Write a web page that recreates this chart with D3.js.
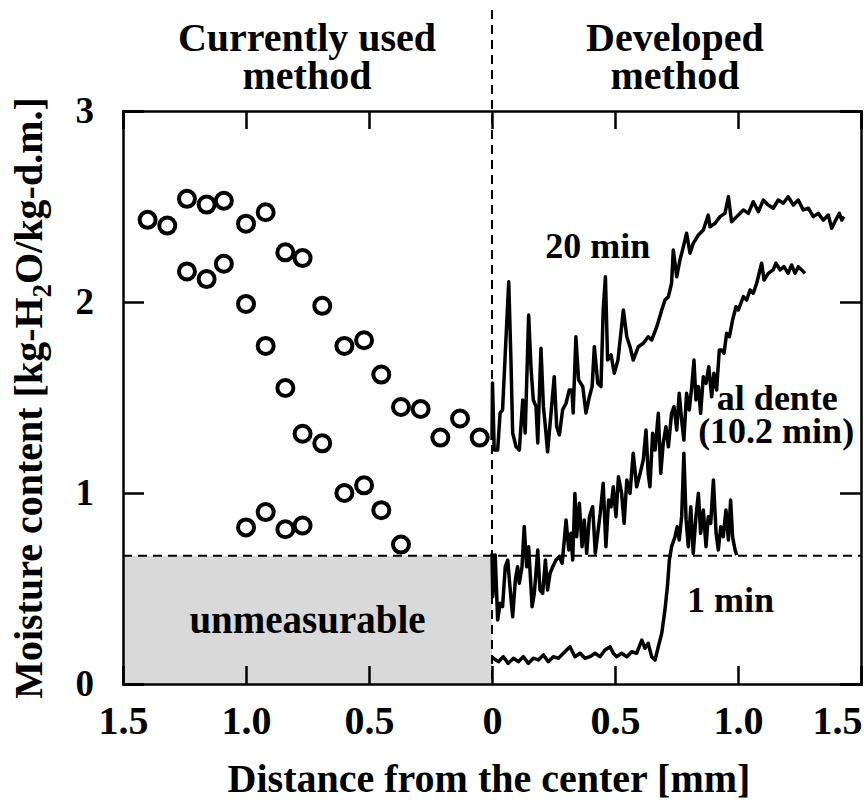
<!DOCTYPE html>
<html>
<head>
<meta charset="utf-8">
<script src="https://cdn.jsdelivr.net/npm/d3@7"></script>
<style>
  body { margin: 0; background: #fff; }
  text { font-family: "Liberation Serif", "Times New Roman", serif; font-weight: bold; fill: #000; }
</style>
</head>
<body>
<div id="chart"></div>
<script>
////////////////////
// DATA

var xTicks = [-1.5, -1, -0.5, 0, 0.5, 1, 1.5];
var yTicks = [0, 1, 2, 3];
var threshold = 0.672; // lower limit of the currently used method

// currently used method: [distance from center (mm), moisture]
var currentPts = [
  [1.40, 2.43], [1.32, 2.40], [1.24, 2.54], [1.16, 2.51], [1.09, 2.53], [1.00, 2.41], [0.92, 2.47],
  [0.84, 2.26], [0.77, 2.23], [1.24, 2.16], [1.16, 2.12], [1.09, 2.20], [1.00, 1.99], [0.69, 1.98],
  [0.92, 1.77], [0.60, 1.77], [0.52, 1.80], [0.45, 1.62], [0.84, 1.55], [0.37, 1.45], [0.29, 1.44],
  [0.13, 1.39], [0.21, 1.29], [0.05, 1.29], [0.77, 1.31], [0.69, 1.26], [0.60, 1.00], [0.52, 1.04],
  [0.45, 0.91], [1.00, 0.82], [0.92, 0.90], [0.84, 0.81], [0.77, 0.83], [0.37, 0.73]
];

// developed method, 20 min
var min20 = [
  [0.000, 1.277], [0.002, 1.576], [0.009, 1.225], [0.023, 1.225], [0.033, 1.419], [0.043, 1.435],
  [0.054, 1.733], [0.068, 2.106], [0.077, 1.696], [0.084, 1.314], [0.098, 1.242], [0.111, 1.225],
  [0.125, 1.487], [0.135, 1.314], [0.149, 1.932], [0.159, 1.644], [0.168, 1.487], [0.179, 1.452],
  [0.186, 1.262], [0.199, 1.758], [0.209, 1.452], [0.217, 1.347], [0.226, 1.216], [0.240, 1.419],
  [0.253, 1.609], [0.263, 1.347], [0.274, 1.304], [0.287, 1.435], [0.301, 1.470], [0.314, 1.539],
  [0.325, 1.539], [0.330, 1.419], [0.341, 1.818], [0.352, 1.592], [0.369, 1.557], [0.382, 1.419],
  [0.396, 1.504], [0.407, 1.557], [0.416, 1.766], [0.430, 1.574], [0.443, 1.557], [0.452, 1.958],
  [0.461, 2.132], [0.470, 1.696], [0.484, 1.723], [0.497, 1.627], [0.512, 1.696], [0.534, 1.958],
  [0.548, 1.818], [0.561, 1.766], [0.574, 1.696], [0.595, 1.766], [0.615, 1.784], [0.635, 1.818],
  [0.649, 1.801], [0.670, 1.871], [0.690, 1.958], [0.703, 2.010], [0.717, 2.028], [0.730, 2.098],
  [0.737, 2.272], [0.751, 2.132], [0.764, 2.220], [0.778, 2.290], [0.791, 2.360], [0.805, 2.255],
  [0.818, 2.307], [0.839, 2.351], [0.859, 2.377], [0.879, 2.455], [0.886, 2.394], [0.907, 2.412],
  [0.927, 2.447], [0.947, 2.464], [0.961, 2.551], [0.974, 2.420], [0.995, 2.447], [1.022, 2.482],
  [1.042, 2.464], [1.062, 2.525], [1.083, 2.473], [1.103, 2.534], [1.123, 2.508], [1.143, 2.491],
  [1.164, 2.534], [1.184, 2.517], [1.204, 2.551], [1.225, 2.508], [1.245, 2.534], [1.265, 2.482],
  [1.286, 2.491], [1.306, 2.447], [1.326, 2.464], [1.347, 2.429], [1.367, 2.455], [1.381, 2.386],
  [1.394, 2.420], [1.412, 2.464], [1.422, 2.429], [1.431, 2.447]
];

// developed method, al dente (10.2 min)
var alDente = [
  [0.000, 0.684], [0.003, 0.457], [0.013, 0.675], [0.023, 0.335], [0.033, 0.423], [0.043, 0.405],
  [0.054, 0.614], [0.064, 0.649], [0.073, 0.509], [0.084, 0.352], [0.095, 0.545], [0.104, 0.614],
  [0.111, 0.527], [0.122, 0.614], [0.131, 0.824], [0.141, 0.614], [0.149, 0.719], [0.163, 0.405],
  [0.172, 0.475], [0.186, 0.702], [0.195, 0.492], [0.206, 0.475], [0.217, 0.649], [0.226, 0.492],
  [0.236, 0.580], [0.247, 0.614], [0.260, 0.649], [0.274, 0.667], [0.285, 0.632], [0.294, 0.754],
  [0.301, 0.859], [0.312, 0.702], [0.321, 0.789], [0.328, 0.649], [0.337, 0.998], [0.344, 0.771],
  [0.355, 0.946], [0.366, 0.719], [0.375, 0.859], [0.385, 0.684], [0.396, 0.876], [0.409, 0.928],
  [0.420, 0.684], [0.430, 0.789], [0.440, 0.894], [0.452, 1.051], [0.463, 0.719], [0.474, 0.963],
  [0.484, 0.928], [0.493, 1.033], [0.504, 0.876], [0.514, 1.085], [0.527, 0.998], [0.537, 0.841],
  [0.548, 1.068], [0.561, 0.998], [0.574, 1.208], [0.588, 1.033], [0.602, 1.103], [0.615, 1.173],
  [0.626, 1.330], [0.635, 1.103], [0.642, 1.033], [0.653, 1.313], [0.663, 1.225], [0.676, 1.417],
  [0.686, 1.103], [0.696, 1.260], [0.707, 1.347], [0.717, 1.242], [0.730, 1.417], [0.740, 1.452],
  [0.751, 1.330], [0.761, 1.522], [0.771, 1.382], [0.780, 1.277], [0.791, 1.522], [0.802, 1.435],
  [0.812, 1.557], [0.821, 1.696], [0.829, 1.487], [0.839, 1.557], [0.848, 1.417], [0.859, 1.609],
  [0.870, 1.574], [0.881, 1.661], [0.893, 1.504], [0.902, 1.627], [0.913, 1.539], [0.924, 1.749],
  [0.934, 1.749], [0.943, 1.731], [0.954, 1.836], [0.965, 1.818], [0.978, 1.906], [0.992, 1.975],
  [1.001, 1.958], [1.022, 2.028], [1.035, 2.010], [1.049, 2.063], [1.062, 2.046], [1.076, 2.098],
  [1.096, 2.203], [1.106, 2.115], [1.123, 2.150], [1.143, 2.168], [1.154, 2.203], [1.171, 2.168],
  [1.187, 2.185], [1.204, 2.150], [1.218, 2.194], [1.232, 2.150], [1.245, 2.185], [1.259, 2.168],
  [1.272, 2.150]
];

// developed method, 1 min
var min1 = [
  [0.001, 0.143], [0.005, 0.135], [0.026, 0.117], [0.046, 0.143], [0.066, 0.108], [0.087, 0.135],
  [0.107, 0.117], [0.127, 0.143], [0.148, 0.108], [0.168, 0.135], [0.188, 0.126], [0.209, 0.152],
  [0.229, 0.117], [0.249, 0.143], [0.270, 0.135], [0.290, 0.161], [0.317, 0.195], [0.337, 0.143],
  [0.358, 0.161], [0.378, 0.135], [0.398, 0.143], [0.419, 0.161], [0.439, 0.143], [0.459, 0.178],
  [0.480, 0.195], [0.493, 0.161], [0.507, 0.143], [0.527, 0.161], [0.548, 0.143], [0.568, 0.169],
  [0.588, 0.161], [0.609, 0.230], [0.622, 0.187], [0.635, 0.213], [0.649, 0.143], [0.663, 0.126],
  [0.676, 0.195], [0.690, 0.265], [0.703, 0.387], [0.713, 0.509], [0.721, 0.649], [0.730, 0.719],
  [0.744, 0.771], [0.753, 0.824], [0.761, 0.754], [0.771, 0.876], [0.780, 1.208], [0.789, 0.859],
  [0.798, 0.719], [0.808, 0.928], [0.818, 0.684], [0.829, 0.876], [0.839, 0.998], [0.848, 0.789],
  [0.859, 0.911], [0.870, 0.719], [0.879, 0.876], [0.889, 0.841], [0.900, 1.068], [0.911, 0.789],
  [0.920, 0.702], [0.930, 0.824], [0.940, 0.771], [0.951, 0.911], [0.961, 0.754], [0.970, 0.963],
  [0.978, 0.771], [0.988, 0.702], [0.995, 0.675]
];

////////////////////
// SETUP

var w = 864;
var h = 803;
var margin = {top: 111, right: 3, bottom: 119, left: 123};

var x = d3.scaleLinear().domain([-1.5, 1.5]).range([margin.left, w - margin.right]);
var y = d3.scaleLinear().domain([0, 3]).range([h - margin.bottom, margin.top]);

var svg = d3.select("#chart")
  .append("svg")
  .attr("width", w)
  .attr("height", h);

svg.append("rect").attr("width", w).attr("height", h).attr("fill", "#fff");

// unmeasurable region
svg.append("rect")
  .attr("x", x(-1.5))
  .attr("y", y(threshold))
  .attr("width", x(0) - x(-1.5))
  .attr("height", y(0) - y(threshold))
  .attr("fill", "#d9d9d9");

svg.append("text")
  .attr("x", x(-0.75))
  .attr("y", y(0.265))
  .attr("text-anchor", "middle")
  .style("font-size", "39px")
  .text("unmeasurable");

// dashed guides
svg.append("line")
  .attr("x1", x(-1.5)).attr("x2", x(1.5))
  .attr("y1", y(threshold)).attr("y2", y(threshold))
  .attr("stroke", "#000").attr("stroke-width", 2)
  .attr("stroke-dasharray", "9,6");

svg.append("line")
  .attr("x1", x(0)).attr("x2", x(0))
  .attr("y1", 10).attr("y2", y(0))
  .attr("stroke", "#000").attr("stroke-width", 2)
  .attr("stroke-dasharray", "9,6");

////////////////////
// AXES

var fmt = function(d) { return d === 0 ? "0" : d3.format(".1f")(Math.abs(d)); };

var gx = svg.append("g")
  .attr("transform", "translate(0," + y(0) + ")")
  .call(d3.axisBottom(x).tickValues(xTicks).tickSize(-18).tickPadding(22).tickFormat(fmt));

svg.append("g")
  .attr("transform", "translate(0," + y(3) + ")")
  .call(d3.axisTop(x).tickValues(xTicks).tickSize(-18).tickFormat(""));

var gy = svg.append("g")
  .attr("transform", "translate(" + x(-1.5) + ",0)")
  .call(d3.axisLeft(y).tickValues(yTicks).tickSize(-21).tickPadding(29).tickFormat(d3.format("d")));

svg.append("g")
  .attr("transform", "translate(" + x(1.5) + ",0)")
  .call(d3.axisRight(y).tickValues(yTicks).tickSize(-21).tickFormat(""));

svg.selectAll(".domain").attr("stroke-width", 2.5);
svg.selectAll(".tick line").attr("stroke-width", 2.5);
gx.selectAll("text").style("font-size", "40px").style("font-family", "Liberation Serif").style("font-weight", "bold");
gy.selectAll("text").style("font-size", "37px").style("font-family", "Liberation Serif").style("font-weight", "bold");

// keep the last x label inside the picture
gx.selectAll(".tick text")
  .filter(function(d) { return d === 1.5; })
  .attr("text-anchor", "end")
  .attr("x", 1);

// axis titles
svg.append("text")
  .attr("x", 489)
  .attr("y", 792)
  .attr("text-anchor", "middle")
  .style("font-size", "40px")
  .text("Distance from the center [mm]");

var yl = svg.append("text")
  .attr("transform", "translate(42,398) rotate(-90)")
  .attr("text-anchor", "middle")
  .style("font-size", "40px");
yl.append("tspan").text("Moisture content [kg-H");
yl.append("tspan").attr("dy", 9).style("font-size", "27px").text("2");
yl.append("tspan").attr("dy", -9).text("O/kg-d.m.]");

// method headers
var heads = [
  {t: ["Currently used", "method"], cx: 307},
  {t: ["Developed", "method"], cx: 675}
];
heads.forEach(function(hd) {
  hd.t.forEach(function(s, i) {
    svg.append("text")
      .attr("x", hd.cx)
      .attr("y", 51 + i * 38)
      .attr("text-anchor", "middle")
      .style("font-size", "40px")
      .text(s);
  });
});

////////////////////
// MARKS

var line = d3.line()
  .x(function(d) { return x(d[0]); })
  .y(function(d) { return y(d[1]); });

[min20, alDente, min1].forEach(function(s) {
  svg.append("path")
    .datum(s)
    .attr("d", line)
    .attr("fill", "none")
    .attr("stroke", "#000")
    .attr("stroke-width", 3.5)
    .attr("stroke-linejoin", "round");
});

svg.append("g")
  .selectAll("circle")
  .data(currentPts)
  .enter()
  .append("circle")
  .attr("cx", function(d) { return x(-d[0]); })
  .attr("cy", function(d) { return y(d[1]); })
  .attr("r", 8)
  .attr("fill", "#fff")
  .attr("stroke", "#000")
  .attr("stroke-width", 4);

// series labels
var notes = [
  {t: "20 min", x: 0.43, y: 2.23},
  {t: "al dente", x: 1.16, y: 1.435},
  {t: "(10.2 min)", x: 1.155, y: 1.262},
  {t: "1 min", x: 0.97, y: 0.377}
];
svg.selectAll(".note")
  .data(notes)
  .enter()
  .append("text")
  .attr("class", "note")
  .attr("x", function(d) { return x(d.x); })
  .attr("y", function(d) { return y(d.y); })
  .attr("text-anchor", "middle")
  .style("font-size", "36px")
  .text(function(d) { return d.t; });
</script>
</body>
</html>
